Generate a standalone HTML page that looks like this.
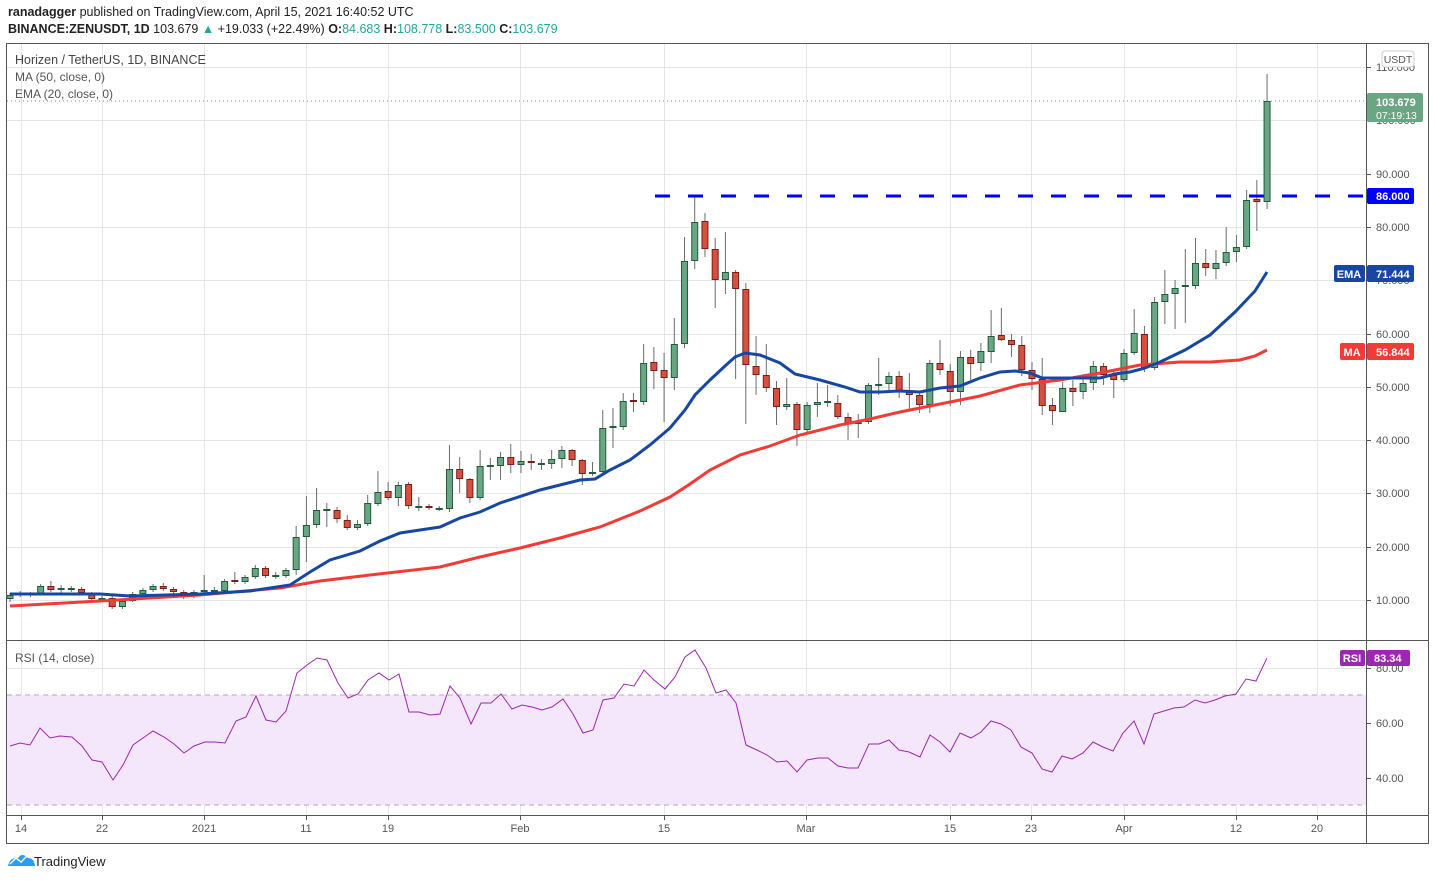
<!DOCTYPE html>
<html><head><meta charset="utf-8"><style>
body{margin:0;background:#fff;width:1435px;height:880px;overflow:hidden;font-family:"Liberation Sans",sans-serif;}
svg text{font-family:"Liberation Sans",sans-serif;}
</style></head><body>
<svg id="s" width="1435" height="880" xmlns="http://www.w3.org/2000/svg">
<rect width="1435" height="880" fill="#fff"/>
<g id="grid"></g>
<rect x="7" y="695" width="1359" height="110" fill="#f4e6fb"/>
<line x1="7" x2="1366" y1="695" y2="695" stroke="#b7a6c2" stroke-dasharray="5,4"/>
<line x1="7" x2="1366" y1="805" y2="805" stroke="#b7a6c2" stroke-dasharray="5,4"/>
<g id="cnd"></g>
<polyline id="ma" fill="none" stroke="#f23b35" stroke-width="3"/>
<polyline id="ema" fill="none" stroke="#1648a3" stroke-width="3"/>
<polyline id="rsi" fill="none" stroke="#9c27b0" stroke-width="1"/>
<line x1="655" x2="1366" y1="196" y2="196" stroke="#0000ff" stroke-width="3" stroke-dasharray="15,18"/>
<line x1="7" x2="1366" y1="101" y2="101" stroke="#5e9e80" stroke-dasharray="1,3"/>
<!-- frame -->
<rect x="6.5" y="43.5" width="1422" height="800" fill="none" stroke="#555"/>
<line x1="1366.5" x2="1366.5" y1="44" y2="843" stroke="#555"/>
<line x1="7" x2="1428" y1="640.5" y2="640.5" stroke="#555"/>
<line x1="7" x2="1428" y1="815.5" y2="815.5" stroke="#555"/>
<g id="lbl" font-size="11" fill="#555"></g>
<text x="8" y="16" font-size="12.5" fill="#222"><tspan font-weight="bold">ranadagger</tspan> published on TradingView.com, April 15, 2021 16:40:52 UTC</text>
<text x="8" y="33" font-size="12.5" fill="#222"><tspan font-weight="bold">BINANCE:ZENUSDT, 1D</tspan> 103.679 <tspan fill="#26a69a">▲</tspan> +19.033 (+22.49%) <tspan font-weight="bold">O:</tspan><tspan fill="#26a69a">84.683</tspan> <tspan font-weight="bold">H:</tspan><tspan fill="#26a69a">108.778</tspan> <tspan font-weight="bold">L:</tspan><tspan fill="#26a69a">83.500</tspan> <tspan font-weight="bold">C:</tspan><tspan fill="#26a69a">103.679</tspan></text>
<text x="15" y="64" font-size="12.5" fill="#444">Horizen / TetherUS, 1D, BINANCE</text>
<text x="15" y="81" font-size="12" fill="#555">MA (50, close, 0)</text>
<text x="15" y="98" font-size="12" fill="#555">EMA (20, close, 0)</text>
<text x="15" y="662" font-size="12" fill="#555">RSI (14, close)</text>
<rect x="1382" y="51" width="32" height="16" rx="3" fill="#fff" stroke="#ccc"/>
<text x="1398" y="63" font-size="10.5" fill="#555" text-anchor="middle">USDT</text>
<rect x="1367" y="93" width="56" height="29" rx="2" fill="#6aa584"/>
<text x="1376" y="106" font-size="11" fill="#fff" font-weight="bold">103.679</text>
<text x="1376" y="119" font-size="10.5" fill="#fff">07:19:13</text>
<rect x="1367" y="188" width="47" height="16" rx="2" fill="#0000ff"/>
<text x="1376" y="200" font-size="11" fill="#fff" font-weight="bold">86.000</text>
<rect x="1334" y="265" width="31" height="17" rx="2" fill="#1648a3"/>
<text x="1349" y="278" font-size="11" fill="#fff" text-anchor="middle" font-weight="bold">EMA</text>
<rect x="1367" y="265" width="47" height="17" rx="2" fill="#1648a3"/>
<text x="1376" y="278" font-size="11" fill="#fff" font-weight="bold">71.444</text>
<rect x="1340" y="343" width="25" height="17" rx="2" fill="#f23b35"/>
<text x="1352" y="356" font-size="11" fill="#fff" text-anchor="middle" font-weight="bold">MA</text>
<rect x="1367" y="343" width="47" height="17" rx="2" fill="#f23b35"/>
<text x="1376" y="356" font-size="11" fill="#fff" font-weight="bold">56.844</text>
<rect x="1340" y="650" width="25" height="16" rx="2" fill="#9c27b0"/>
<text x="1352" y="662" font-size="11" fill="#fff" text-anchor="middle" font-weight="bold">RSI</text>
<rect x="1367" y="650" width="43" height="16" rx="2" fill="#9c27b0"/>
<text x="1374" y="662" font-size="11" fill="#fff" font-weight="bold">83.34</text>
<path d="M8 866 q2-9 10-8 q4-6 10 0 q6 0 7 8 z" fill="#2a9df4"/>
<polyline points="10,864 16,858 21,862 28,855" fill="none" stroke="#fff" stroke-width="1.5"/>
<text x="34" y="866" font-size="13" fill="#222">TradingView</text>
</svg>
<script>
const NS="http://www.w3.org/2000/svg";
function el(p,t,a,txt){const e=document.createElementNS(NS,t);for(const k in a)e.setAttribute(k,a[k]);if(txt!==undefined)e.textContent=txt;p.appendChild(e);return e;}
const g=document.getElementById('grid'),L=document.getElementById('lbl');
const vx=[[21,'14'],[102,'22'],[204,'2021'],[306,'11'],[388,'19'],[520,'Feb'],[664,'15'],[806,'Mar'],[950,'15'],[1031,'23'],[1124,'Apr'],[1236,'12'],[1317,'20']];
vx.forEach(([x,t])=>{el(g,'line',{x1:x+.5,x2:x+.5,y1:44,y2:815,stroke:'#e6e6e6'});el(L,'line',{x1:x+.5,x2:x+.5,y1:815,y2:820,stroke:'#555'});el(L,'text',{x:x,y:832,'text-anchor':'middle'},t);});
[[67,'110.000'],[120,'100.000'],[174,'90.000'],[227,'80.000'],[280,'70.000'],[334,'60.000'],[387,'50.000'],[440,'40.000'],[493,'30.000'],[547,'20.000'],[600,'10.000']].forEach(([y,t])=>{el(g,'line',{x1:7,x2:1366,y1:y+.5,y2:y+.5,stroke:'#e6e6e6'});el(L,'line',{x1:1366,x2:1371,y1:y+.5,y2:y+.5,stroke:'#555'});el(L,'text',{x:1376,y:y+4},t);});
[[668,'80.00'],[723,'60.00'],[778,'40.00']].forEach(([y,t])=>{el(g,'line',{x1:7,x2:1366,y1:y+.5,y2:y+.5,stroke:'#e6e6e6'});el(L,'line',{x1:1366,x2:1371,y1:y+.5,y2:y+.5,stroke:'#555'});el(L,'text',{x:1376,y:y+4},t);});
// candles: [open_y, close_y, high_y, low_y]
const C=[[599,595,593,602],[595,594,591,597],[594,595,592,597],[594,586,584,595],[586,590,581,592],[589,589,585,593],[589,589,586,592],[589,593,587,595],[594,599,592,601],[599,599,596,601],[598,607,596,609],[607,601,599,609],[601,594,592,602],[594,590,588,596],[590,586,584,592],[586,589,583,591],[589,592,587,594],[592,596,590,599],[596,592,590,598],[592,591,575,593],[591,591,587,594],[591,581,579,592],[581,582,572,584],[582,577,575,584],[577,568,565,579],[568,576,566,578],[576,576,572,579],[576,570,568,578],[570,537,526,575],[537,525,496,562],[525,510,488,528],[510,510,503,527],[510,519,507,523],[520,528,515,530],[528,524,520,530],[524,503,495,526],[504,492,471,506],[491,498,482,500],[498,485,482,506],[484,506,482,509],[507,507,497,511],[506,508,504,510],[509,509,506,511],[509,469,445,512],[469,479,457,493],[479,498,478,503],[498,466,450,500],[466,466,458,480],[466,457,452,480],[457,465,444,473],[465,461,451,473],[461,463,454,470],[464,464,459,470],[464,459,450,469],[459,450,446,468],[450,460,449,466],[460,474,459,485],[474,472,462,476],[472,428,410,474],[428,427,408,448],[427,401,393,430],[401,402,393,412],[402,363,344,405],[362,371,347,389],[370,378,353,422],[378,344,318,390],[344,261,237,348],[261,222,197,269],[221,249,213,257],[249,280,238,308],[280,272,232,294],[272,289,270,379],[289,365,283,424],[366,375,336,395],[375,388,344,392],[388,407,381,425],[407,404,378,410],[404,430,402,446],[430,405,402,434],[405,402,383,417],[402,402,385,407],[403,417,395,419],[417,423,413,440],[423,423,414,438],[422,385,383,424],[385,385,358,395],[384,376,372,392],[376,392,371,398],[392,395,373,410],[395,405,393,413],[405,363,360,413],[363,370,340,375],[371,392,364,406],[392,357,351,405],[357,364,350,380],[363,351,343,371],[352,336,310,363],[335,340,308,341],[340,345,334,357],[345,370,336,376],[370,379,362,390],[379,406,358,415],[405,411,398,425],[412,388,382,412],[388,392,380,406],[392,383,376,399],[383,366,361,390],[366,375,363,385],[375,380,369,398],[380,353,349,382],[353,333,309,355],[334,368,326,372],[368,302,297,370],[302,294,270,324],[294,288,280,329],[287,285,249,323],[286,263,238,289],[263,268,249,276],[269,263,250,279],[263,252,227,266],[252,247,235,262],[247,200,190,249],[199,202,180,231],[202,101,74,209]];
const cg=document.getElementById('cnd');
C.forEach((c,i)=>{const x=10+i*10.22;const [o,cl,h,l]=c;const up=cl<=o;
el(cg,'line',{x1:x,x2:x,y1:h,y2:l,stroke:'#6b6b6b'});
const t=Math.min(o,cl),b=Math.max(o,cl);
if(b-t<2){el(cg,'rect',{x:x-3.5,y:t-1,width:7,height:2,fill:up?'#1f5c3c':'#7a1e1a'});}
else el(cg,'rect',{x:x-3,y:t+.5,width:6,height:b-t-1,fill:up?'#6aa584':'#d6503f',stroke:up?'#1f5c3c':'#7a1e1a','stroke-width':1});
});
document.getElementById('ema').setAttribute('points',"10,594 100,594 130,596 200,594 250,591 290,585 310,572 330,560 360,551 380,541 400,533 440,527 460,518 480,512 500,503 540,490 580,480 595,479 610,470 630,460 650,445 670,428 685,410 695,395 710,380 725,366 735,357 745,353 760,355 780,363 795,374 820,380 845,387 860,392 880,392 900,391 920,392 940,388 960,386 980,378 1000,372 1015,371 1030,373 1042,378 1060,378 1100,378 1115,374 1130,372 1145,368 1160,362 1185,350 1210,335 1235,312 1255,291 1267,272");
document.getElementById('ma').setAttribute('points',"10,606 100,601 200,595 280,588 320,581 370,575 440,567 480,557 520,548 560,538 600,527 640,511 670,497 690,484 710,470 740,455 770,446 800,435 840,425 870,419 900,412 940,404 980,396 1020,385 1060,380 1100,373 1140,365 1180,362 1210,362 1240,360 1255,356 1267,350");
document.getElementById('rsi').setAttribute('points',"10,746 20,743 30,745 40,728 50,738 60,736 72,737 82,746 92,760 102,762 113,780 123,765 133,745 143,738 153,731 164,737 174,744 184,753 194,746 205,742 215,742 225,743 236,721 246,717 256,696 266,720 276,722 286,711 297,673 307,665 317,658 327,660 338,683 348,698 358,694 368,680 379,673 389,680 399,674 409,712 419,712 430,715 440,714 450,686 460,698 471,724 481,703 491,703 501,694 512,709 522,705 532,707 542,710 552,707 563,699 573,714 583,733 593,730 603,700 614,698 624,684 634,686 644,670 654,680 665,689 675,677 685,657 695,650 706,668 716,693 726,690 736,703 746,745 757,750 767,755 777,762 787,761 797,772 807,760 818,758 828,758 838,766 848,768 858,768 869,744 879,744 889,740 899,750 909,752 920,757 930,735 940,742 950,752 960,733 971,738 981,732 991,721 1001,724 1011,730 1021,747 1032,753 1042,769 1052,772 1062,756 1072,759 1083,753 1093,742 1103,747 1113,751 1123,733 1134,721 1144,744 1154,714 1164,711 1174,708 1184,707 1195,700 1205,703 1215,700 1225,696 1236,694 1246,679 1256,681 1267,658");
</script>
</body></html>
